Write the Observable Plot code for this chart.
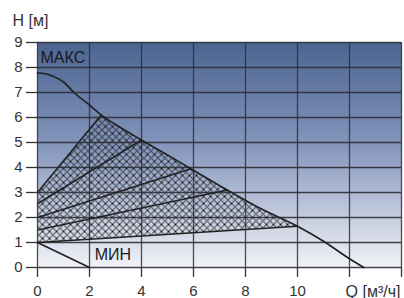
<!DOCTYPE html>
<html>
<head>
<meta charset="utf-8">
<script src="https://cdn.jsdelivr.net/npm/d3@7"></script>
<script src="https://cdn.jsdelivr.net/npm/@observablehq/plot@0.6"></script>
<style>
  html, body { margin: 0; padding: 0; background: #fff; }
  #chart { width: 404px; height: 298px; }
</style>
</head>
<body>
<div id="chart"></div>
<script>
// ---- data ----
const qTicks = [0, 2, 4, 6, 8, 10, 12, 14];
const hTicks = [0, 1, 2, 3, 4, 5, 6, 7, 8, 9];
const maxQ = [0, 0.3, 0.6, 1.0, 1.4, 2.0, 2.45, 3.0, 4.0, 5.0, 5.9, 7.3, 8.5, 10.0, 11.0, 12.0, 12.55];
const maxH = [7.78, 7.75, 7.65, 7.42, 7.0, 6.5, 6.1, 5.72, 5.1, 4.5, 3.95, 3.1, 2.4, 1.65, 1.05, 0.35, 0.0];
const minQ = [0, 2];
const minH = [1, 0];
const ctrlStartH = [3.0, 2.55, 2.0, 1.5, 1.0];
const ctrlEndQ = [2.45, 4.0, 5.9, 7.3, 10.0];
const ctrlEndH = [6.1, 5.1, 3.95, 3.1, 1.65];
const labelMax = "МАКС";
const labelMin = "МИН";
const labelH = "H [м]";
const labelQ = "Q [м³/ч]";

// ---- derived tables ----
const maxCurve = maxQ.map((q, i) => ({q, h: maxH[i]}));
const minLine = minQ.map((q, i) => ({q, h: minH[i]}));
const ctrl = ctrlStartH.map((h0, i) => ({q1: 0, h1: h0, q2: ctrlEndQ[i], h2: ctrlEndH[i]}));
const qTop = ctrlEndQ[0], qEnd = ctrlEndQ[ctrlEndQ.length - 1];
const hatchPoly = [
  {q: 0, h: ctrlStartH[ctrlStartH.length - 1]},
  {q: 0, h: ctrlStartH[0]},
  ...maxCurve.filter(d => d.q >= qTop && d.q <= qEnd)
];

const ink = "#222";
const font = "'Liberation Sans', Arial, sans-serif";

const plot = Plot.plot({
  width: 404,
  height: 298,
  marginLeft: 37,
  marginRight: 3,
  marginTop: 42,
  marginBottom: 31,
  style: {fontFamily: font, fontSize: "15px", color: "#333", background: "#fff", overflow: "visible"},
  x: {domain: [0, 14]},
  y: {domain: [0, 9]},
  marks: [
    Plot.frame({fill: "url(#bgGrad)", stroke: "none"}),
    Plot.line(hatchPoly, {x: "q", y: "h", fill: "url(#hatch)", stroke: "none", curve: "linear"}),
    Plot.gridX(qTicks, {stroke: "#2c2f36", strokeOpacity: 0.85, strokeWidth: 1.3}),
    Plot.gridY(hTicks, {stroke: "#2c2f36", strokeOpacity: 0.9, strokeWidth: 1.3}),
    Plot.link(ctrl, {x1: "q1", y1: "h1", x2: "q2", y2: "h2", stroke: ink, strokeWidth: 1.7}),
    Plot.line(maxCurve, {x: "q", y: "h", stroke: ink, strokeWidth: 1.7, curve: "monotone-x"}),
    Plot.line(minLine, {x: "q", y: "h", stroke: ink, strokeWidth: 1.7}),
    Plot.axisX(qTicks, {tickSize: 10, tickPadding: 8, stroke: "#333", strokeWidth: 1.3, label: null,
      tickFormat: d => d <= 10 ? String(d) : "", fill: "#333", fontSize: 15}),
    Plot.axisY(hTicks, {tickSize: 11, tickPadding: 4, stroke: "#333", strokeWidth: 1.3, label: null,
      fill: "#333", fontSize: 15}),
    Plot.text([labelMax], {frameAnchor: "top-left", dx: 3, dy: 9, fill: "#1a1a1a", fontSize: 16, textAnchor: "start", lineAnchor: "top"}),
    Plot.text([labelMin], {x: [2.2], y: [0.5], fill: "#1a1a1a", fontSize: 16, textAnchor: "start"}),
    Plot.text([labelH], {frameAnchor: "top-left", dx: -25, dy: -28, fill: "#333", fontSize: 16, textAnchor: "start", lineAnchor: "top"}),
    Plot.text([labelQ], {frameAnchor: "bottom-right", dx: -1, dy: 29, fill: "#333", fontSize: 16, textAnchor: "end", lineAnchor: "bottom"})
  ]
});

// gradient + hatch pattern definitions
const svg = d3.select(plot.tagName.toLowerCase() === "svg" ? plot : plot.querySelector("svg"));
const defs = svg.insert("defs", ":first-child");
const g = defs.append("linearGradient").attr("id", "bgGrad").attr("x1", 0).attr("y1", 0).attr("x2", 0).attr("y2", 1);
g.append("stop").attr("offset", "0%").attr("stop-color", "#4b6490");
g.append("stop").attr("offset", "45%").attr("stop-color", "#8395bb");
g.append("stop").attr("offset", "100%").attr("stop-color", "#f2f3f8");
const p = defs.append("pattern").attr("id", "hatch").attr("patternUnits", "userSpaceOnUse")
  .attr("width", 7).attr("height", 7);
p.append("path").attr("d", "M-1,-1L8,8M-1,8L8,-1").attr("stroke", "#1a1a1a").attr("stroke-width", 1).attr("fill", "none");

document.getElementById("chart").appendChild(plot);
</script>
</body>
</html>
